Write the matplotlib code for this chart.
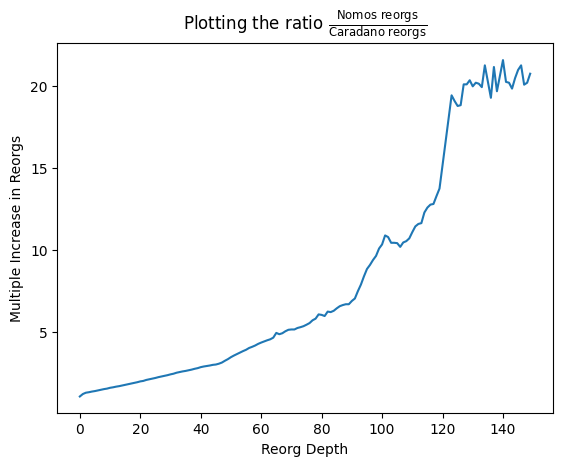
import numpy as np
import matplotlib
matplotlib.use("Agg")
import matplotlib.pyplot as plt

# ratio Nomos / Caradano reorgs, per reorg depth 0..149
ratio = [
    1.07, 1.22, 1.30, 1.33, 1.37, 1.40, 1.44, 1.48, 1.52, 1.55,
    1.60, 1.63, 1.67, 1.70, 1.74, 1.78, 1.82, 1.86, 1.90, 1.94,
    1.99, 2.02, 2.08, 2.12, 2.16, 2.20, 2.25, 2.29, 2.33, 2.37,
    2.42, 2.46, 2.52, 2.56, 2.60, 2.63, 2.67, 2.71, 2.76, 2.80,
    2.86, 2.90, 2.93, 2.96, 3.00, 3.02, 3.07, 3.14, 3.25, 3.35,
    3.47, 3.57, 3.66, 3.75, 3.84, 3.92, 4.03, 4.10, 4.18, 4.28,
    4.36, 4.43, 4.50, 4.56, 4.66, 4.95, 4.87, 4.93, 5.05, 5.14,
    5.16, 5.16, 5.25, 5.30, 5.36, 5.45, 5.55, 5.72, 5.82, 6.08,
    6.05, 5.98, 6.25, 6.22, 6.30, 6.45, 6.58, 6.65, 6.70, 6.70,
    6.90, 7.05, 7.50, 7.90, 8.40, 8.85, 9.10, 9.40, 9.65, 10.10,
    10.35, 10.90, 10.80, 10.45, 10.45, 10.43, 10.20, 10.47, 10.55, 10.72,
    11.10, 11.45, 11.60, 11.65, 12.30, 12.60, 12.78, 12.82, 13.30, 13.76,
    15.20, 16.60, 18.00, 19.45, 19.10, 18.80, 18.85, 20.12, 20.12, 20.37,
    20.00, 20.22, 20.16, 19.95, 21.28, 20.30, 19.30, 21.18, 19.70, 20.65,
    21.60, 20.27, 20.22, 19.86, 20.50, 21.00, 21.28, 20.10, 20.22, 20.77,
]
depth = np.arange(len(ratio))

fig = plt.figure(figsize=(5.63, 4.66), dpi=100)
ax = fig.add_axes([0.1018, 0.1131, 0.8799, 0.7940])

ax.plot(depth, ratio)

ax.set_title(r"Plotting the ratio $\frac{\text{Nomos reorgs}}{\text{Caradano reorgs}}$")
ax.set_xlabel("Reorg Depth")
ax.set_ylabel("Multiple Increase in Reorgs")

fig.savefig("out.png", dpi=100)
